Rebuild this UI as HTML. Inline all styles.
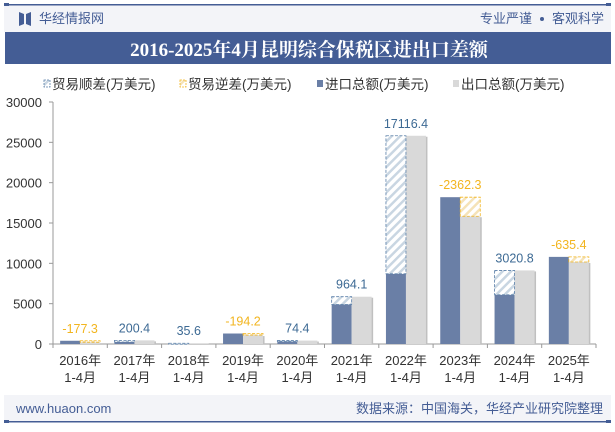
<!DOCTYPE html>
<html><head><meta charset="utf-8"><style>
body{margin:0;width:615px;height:427px;background:#fff;overflow:hidden;font-family:"Liberation Sans","Noto Sans CJK SC",sans-serif}
</style></head><body>
<svg id="c" width="615" height="427" xmlns="http://www.w3.org/2000/svg">
<defs>
<pattern id="hb" patternUnits="userSpaceOnUse" width="6" height="6" patternTransform="rotate(45)"><rect width="6" height="6" fill="#fff"/><rect width="2.5" height="6" fill="#c9d6e2"/></pattern>
<pattern id="hy" patternUnits="userSpaceOnUse" width="6" height="6" patternTransform="rotate(45)"><rect width="6" height="6" fill="#fff"/><rect width="2.5" height="6" fill="#f5e3b8"/></pattern>
</defs>
<rect x="4" y="5" width="607" height="27" fill="#f3f4f8"/>
<rect x="4" y="4" width="607" height="1.5" fill="#445d95"/>
<rect x="4" y="3" width="5" height="3" fill="#445d95"/><rect x="606" y="3" width="5" height="3" fill="#445d95"/>
<path d="M19 12 L24 14 L24 24 L19 26 Z M31 12 L26 14 L26 24 L31 26 Z" fill="#445d95"/>
<text x="39" y="23" font-size="13" fill="#445d95">华经情报网</text>
<text x="532" y="23" font-size="13" fill="#445d95" text-anchor="end">专业严谨</text>
<circle cx="542" cy="19" r="2" fill="#445d95"/>
<text x="604" y="23" font-size="13" fill="#445d95" text-anchor="end">客观科学</text>
<rect x="5" y="32" width="606" height="32" fill="#445d95"/>
<text x="309" y="56" font-size="19" font-weight="bold" fill="#fff" text-anchor="middle" font-family="'Liberation Serif','Noto Serif CJK SC',serif">2016-2025年4月昆明综合保税区进出口差额</text>
<g font-size="13.5" fill="#333">
<g><rect x="44" y="80" width="6" height="7" fill="url(#hb)" stroke="#5a7fa8" stroke-width="0.8" stroke-dasharray="2,1"/><text x="52" y="89">贸易顺差(万美元)</text></g>
<g><rect x="180" y="80" width="6" height="7" fill="url(#hy)" stroke="#f2b51f" stroke-width="0.8" stroke-dasharray="2,1"/><text x="188" y="89">贸易逆差(万美元)</text></g>
<g><rect x="317" y="80" width="6" height="7" fill="#6a7fa6"/><text x="325" y="89">进口总额(万美元)</text></g>
<g><rect x="453" y="80" width="6" height="7" fill="#d9d9d9"/><text x="461" y="89">出口总额(万美元)</text></g>
</g>
<g id="plot"></g>
<rect x="4" y="395" width="607" height="26" fill="#f3f4f8"/>
<rect x="4" y="421" width="607" height="1.5" fill="#445d95"/>
<rect x="4" y="420" width="5" height="3" fill="#445d95"/><rect x="606" y="420" width="5" height="3" fill="#445d95"/>
<text x="16" y="413" font-size="13" fill="#445d95">www.huaon.com</text>
<text x="603" y="413" font-size="13" fill="#445d95" text-anchor="end">数据来源：中国海关，华经产业研究院整理</text>
</svg>
<script>
const years=["2016年","2017年","2018年","2019年","2020年","2021年","2022年","2023年","2024年","2025年"];
const imports=[400,250,60,1300,350,4900,8700,18200,6100,10800];
const exports=[223,450,96,1106,424,5864,25816,15838,9121,10165];
const balanceLabels=["-177.3","200.4","35.6","-194.2","74.4","964.1","17116.4","-2362.3","3020.8","-635.4"];
const yTicks=[0,5000,10000,15000,20000,25000,30000];
const NS="http://www.w3.org/2000/svg";
const g=document.getElementById('plot');
const x0=53,x1=596,y0=344,y1=102,ymax=30000;
const bw=(x1-x0)/years.length;
function Y(v){return y0-(v/ymax)*(y0-y1);}
function X(i){return x0+bw*(i+0.5);}
function el(t,a,p){const e=document.createElementNS(NS,t);for(const k in a)e.setAttribute(k,a[k]);(p||g).appendChild(e);return e;}
let ax=el('line',{x1:x0,y1:y0,x2:x0,y2:y1,stroke:'#999'});


yTicks.forEach(t=>{
 el('line',{x1:x0-4,x2:x0,y1:Y(t),y2:Y(t),stroke:'#999'});
 let tx=el('text',{x:x0-11,y:Y(t)+5,'font-size':13,'text-anchor':'end',fill:'#333'});
 tx.textContent=t;
 
 
});
let xa=el('line',{x1:x0,y1:y0,x2:x1,y2:y0,stroke:'#999'});


const w=20;
years.forEach((yr,i)=>{
 const cx=X(i);
 el('line',{x1:x0+bw*(i+1),x2:x0+bw*(i+1),y1:y0,y2:y0+4,stroke:'#999'});
 if(i==0)el('line',{x1:x0,x2:x0,y1:y0,y2:y0+4,stroke:'#999'});
 const imp=imports[i],exp=exports[i];
 let r1=el('rect',{x:cx-w,y:Y(imp),width:w,height:y0-Y(imp),fill:'#6a7fa6'});
 
 
 el('rect',{x:cx+1.5,y:Y(exp)+1,width:w,height:y0-Y(exp)-1,fill:'#c0c0c0'});
 let r2=el('rect',{x:cx,y:Y(exp),width:w,height:y0-Y(exp),fill:'#d9d9d9'});
 
 
 const surplus=exp>=imp;
 const bx=surplus?cx-w:cx;
 const top=Math.max(imp,exp),bot=Math.min(imp,exp);
 let h=el('rect',{x:bx,y:Y(top),width:w,height:Math.max(Y(bot)-Y(top),1),fill:surplus?'url(#hb)':'url(#hy)',stroke:surplus?'#5a7fa8':'#f2b51f','stroke-width':0.8,'stroke-dasharray':'3,1.5'});
 
 
 let lb=el('text',{x:cx,y:Y(top)-8,'font-size':12.5,'text-anchor':'middle',fill:surplus?'#3d6a94':'#f2b51f'});
 lb.textContent=balanceLabels[i];
 
 
 let t1=el('text',{x:cx,y:365,'font-size':13,'text-anchor':'middle',fill:'#333'});
 t1.textContent=yr;
 
 
 let t2=el('text',{x:cx,y:382,'font-size':13,'text-anchor':'middle',fill:'#333'});
 t2.textContent='1-4月';
 
 
});
</script>
</body></html>
